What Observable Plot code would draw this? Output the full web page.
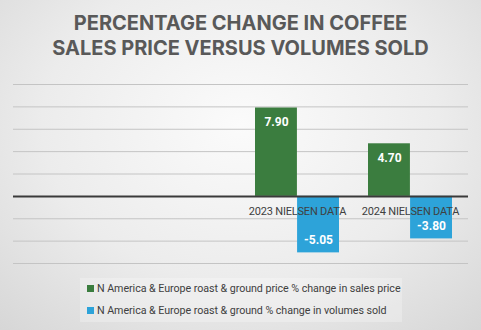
<!DOCTYPE html>
<html><head><meta charset="utf-8">
<script src="https://cdn.jsdelivr.net/npm/d3@7"></script>
<script src="https://cdn.jsdelivr.net/npm/@observablehq/plot@0.6"></script>
<style>
html,body{margin:0;padding:0;}
#wrap{position:relative;width:481px;height:330px;overflow:hidden;
 background:radial-gradient(ellipse 75% 85% at 50% 38%, #fbfbfb 0%, #ececec 55%, #d6d6d6 100%);
 font-family:Roboto, "Liberation Sans", sans-serif;}
#title{position:absolute;left:0;top:11px;width:481px;text-align:center;color:#595959;
 font-family:Inter, "Open Sans", sans-serif;font-weight:700;font-size:20px;line-height:25px;letter-spacing:0px;}
#chart{position:absolute;left:0;top:0;}
#legend{position:absolute;left:80px;top:278px;width:322px;height:44px;background:rgba(255,255,255,0.25);
 font-size:10.7px;color:#404040;letter-spacing:-0.05px;}
.li{position:absolute;left:7px;white-space:nowrap;}
.sw{display:inline-block;width:7px;height:7px;margin-right:3px;vertical-align:0px;}
</style></head>
<body><div id="wrap">
<div id="title">PERCENTAGE CHANGE IN COFFEE<br>SALES PRICE VERSUS VOLUMES SOLD</div>
<div id="chart"></div>
<div id="legend"></div>
</div>
<script>
const categories = ["", " ", "2023 NIELSEN DATA", "2024 NIELSEN DATA"];
const priceChange = [null, null, 7.90, 4.70];
const volumeChange = [null, null, -5.05, -3.80];
const seriesNames = [
  "N America & Europe roast & ground price % change in sales price",
  "N America & Europe roast & ground % change in volumes sold"
];
const colors = ["#3b7d3f", "#2da3d9"];
const gridTicks = [-6, -4, -2, 2, 4, 6, 8, 10];

const priceData = categories.map((c, i) => ({category: c, value: priceChange[i]})).filter(d => d.value != null);
const volData = categories.map((c, i) => ({category: c, value: volumeChange[i]})).filter(d => d.value != null);

const W = 481, H = 330, mL = 13, mR = 13;
const padInner = 0.26;
const bw = (W - mL - mR) / categories.length * (1 - padInner);
const half = bw / 2;

const chart = Plot.plot({
  width: W, height: H,
  marginLeft: mL, marginRight: mR, marginTop: 84, marginBottom: 67,
  style: {background: "transparent", fontFamily: "Roboto, sans-serif"},
  x: {domain: categories, paddingInner: padInner, paddingOuter: padInner / 2, axis: null},
  y: {domain: [-6, 10], axis: null},
  marks: [
    Plot.ruleY(gridTicks, {stroke: "#c4c4c4", strokeWidth: 1}),
    Plot.barY(priceData, {x: "category", y: "value", fill: colors[0], insetRight: half, insetLeft: 0}),
    Plot.barY(volData, {x: "category", y: "value", fill: colors[1], insetLeft: half, insetRight: 0}),
    Plot.ruleY([0], {stroke: "#3a3a3a", strokeWidth: 2}),
    Plot.text(categories.filter(c => c.trim() !== ""), {x: d => d, y: () => 0, text: d => d, dy: 15,
      fill: "#404040", fontSize: 11, className: "cat"}),
    Plot.text(priceData, {x: "category", y: "value", text: d => d.value.toFixed(2), dx: -half / 2, dy: 14,
      fill: "white", fontWeight: "bold", fontSize: 12}),
    Plot.text(volData, {x: "category", y: "value", text: d => d.value.toFixed(2), dx: half / 2, dy: -13,
      fill: "white", fontWeight: "bold", fontSize: 12})
  ]
});
chart.querySelectorAll(".cat text, g.cat text").forEach(t => t.style.letterSpacing = "-0.2px");
document.getElementById("chart").appendChild(chart);

const lg = document.getElementById("legend");
seriesNames.forEach((n, i) => {
  const div = document.createElement("div");
  div.className = "li";
  div.style.top = (4 + i * 22) + "px";
  div.innerHTML = `<span class="sw" style="background:${colors[i]}"></span>${n}`;
  lg.appendChild(div);
});
</script>
</body></html>
